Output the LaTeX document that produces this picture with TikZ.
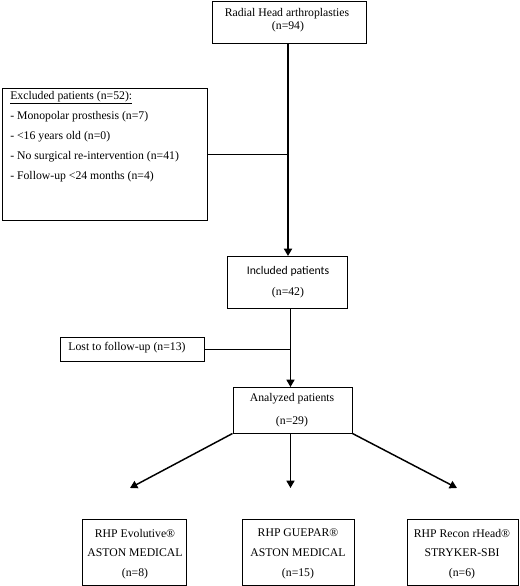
\documentclass[tikz,border=0pt]{standalone}
\usepackage{fontspec}
\setmainfont{Liberation Serif}
\newfontfamily\calibrifont{Carlito}
\usetikzlibrary{arrows.meta}
\begin{document}
\begin{tikzpicture}[x=0.75pt,y=-0.75pt,
  box/.style={draw=black,line width=0.75pt,inner sep=0pt,rectangle},
  txt/.style={font=\fontsize{8.8}{10}\selectfont,inner sep=0pt},
  link/.style={draw=black,line width=0.75pt},
  arr/.style={draw=black,line width=1.1pt,-{Triangle[width=6pt,length=5.5pt]}},
  spine/.style={draw=black,line width=1.5pt,-{Triangle[width=6pt,length=5.5pt]}}]
\useasboundingbox[fill=white] (0,0) rectangle (520,586);
% boxes
\node[box,minimum width=115.5pt,minimum height=31.5pt] (top) at (289,22) {};
\node[box,minimum width=153.75pt,minimum height=99pt] (excl) at (104.5,154) {};
\node[box,minimum width=90pt,minimum height=39pt] (incl) at (287.5,282) {};
\node[box,minimum width=108pt,minimum height=18pt] (lost) at (132,349) {};
\node[box,minimum width=89.25pt,minimum height=34.5pt] (ana) at (292.5,410) {};
\node[box,minimum width=78pt,minimum height=49.5pt] (b1) at (134,552) {};
\node[box,minimum width=84pt,minimum height=49.5pt] (b2) at (298,552) {};
\node[box,minimum width=83.25pt,minimum height=49.5pt] (b3) at (462.5,552) {};
% texts
\node[txt] (t1) at (287,14) {Radial Head arthroplasties};
\node[txt] (t2) at (288,27) {(n=94)};
\node[txt,anchor=base west] (e1) at (10,99) {\underline{Excluded patients (n=52):}};
\node[txt,anchor=base west] (e2) at (10,119) {- Monopolar prosthesis (n=7)};
\node[txt,anchor=base west] (e3) at (10,139) {- <16 years old (n=0)};
\node[txt,anchor=base west] (e4) at (10,159) {- No surgical re-intervention (n=41)};
\node[txt,anchor=base west] (e5) at (10,179) {- Follow-up <24 months (n=4)};
\node[txt,font=\fontsize{8.8}{10}\calibrifont] (i1) at (288,271) {Included patients};
\node[txt] (i2) at (288,293) {(n=42)};
\node[txt] (l1) at (127,348) {Lost to follow-up (n=13)};
\node[txt] (a1t) at (292,399) {Analyzed patients};
\node[txt] (a2t) at (292,422) {(n=29)};
\node[txt] (b1a) at (135,533) {RHP Evolutive®};
\node[txt] (b1b) at (135,553) {ASTON MEDICAL};
\node[txt] (b1c) at (135,574) {(n=8)};
\node[txt] (b2a) at (298,533) {RHP GUEPAR®};
\node[txt] (b2b) at (298,553) {ASTON MEDICAL};
\node[txt] (b2c) at (298,574) {(n=15)};
\node[txt] (b3a) at (462,533) {RHP Recon rHead®};
\node[txt] (b3b) at (462,553) {STRYKER-SBI};
\node[txt] (b3c) at (462,574) {(n=6)};
% connectors
\coordinate (s1) at (288,256);
\draw[spine] (top.south -| s1) -- (s1);
\draw[link] (excl.east) -- (excl.east -| s1);
\coordinate (s2) at (290.5,387);
\draw[arr] (incl.south -| s2) -- (s2);
\draw[link] (lost.east) -- (lost.east -| s2);
\coordinate (p1) at (130,488);
\coordinate (p2) at (290.5,488);
\coordinate (p3) at (457,488);
\draw[arr] (ana.south west) -- (p1);
\draw[arr] (ana.south -| p2) -- (p2);
\draw[arr] (ana.south east) -- (p3);
\end{tikzpicture}
\end{document}
